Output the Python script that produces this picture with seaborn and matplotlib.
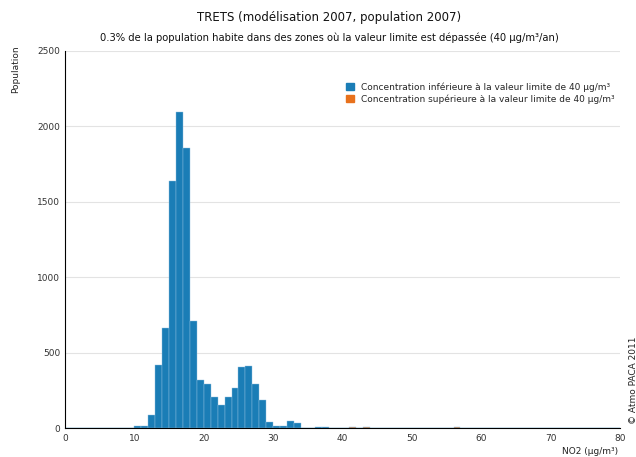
import numpy as np
import pandas as pd
import matplotlib
matplotlib.use("Agg")
import matplotlib.pyplot as plt
import seaborn as sns
from matplotlib.patches import Patch
from matplotlib.ticker import MultipleLocator

# Data: NO2 bins (1 µg/m³ wide, left edge) and population counts
blue_bins = [10, 11, 12, 13, 14, 15, 16, 17, 18, 19, 20, 21, 22, 23, 24, 25, 26, 27,
             28, 29, 30, 31, 32, 33, 36, 37]
blue_values = [15, 15, 88, 416, 661, 1636, 2098, 1855, 710, 318, 290, 208, 152, 208,
               263, 407, 414, 290, 186, 38, 15, 15, 46, 30, 8, 8]
orange_bins = [41, 43, 56]
orange_values = [6, 6, 6]

label_low = "Concentration inférieure à la valeur limite de 40 µg/m³"
label_high = "Concentration supérieure à la valeur limite de 40 µg/m³"
title = "TRETS (modélisation 2007, population 2007)"
subtitle = "0.3% de la population habite dans des zones où la valeur limite est dépassée (40 µg/m³/an)"

blue = "#1a7db6"
orange = "#e8711c"

df = pd.DataFrame({
    "no2": [b + 0.5 for b in blue_bins] + [b + 0.5 for b in orange_bins],
    "pop": blue_values + orange_values,
    "cat": [label_low] * len(blue_bins) + [label_high] * len(orange_bins),
})

sns.set_style("white")
plt.rcParams["font.family"] = ["DejaVu Sans"]

fig = plt.figure(figsize=(6.36, 4.57), dpi=100)
ax = fig.add_axes([65 / 636, 1 - 428 / 457, (620 - 65) / 636, (428 - 51) / 457])

sns.histplot(data=df, x="no2", weights="pop", hue="cat", binwidth=1, binrange=(0, 80),
             palette={label_low: blue, label_high: orange}, multiple="layer",
             alpha=1, edgecolor="#8fc0e0", linewidth=0.3, legend=False, ax=ax)

ax.set_xlim(0, 80)
ax.set_ylim(0, 2500)
ax.xaxis.set_major_locator(MultipleLocator(10))
ax.xaxis.set_minor_locator(MultipleLocator(5))
ax.yaxis.set_major_locator(MultipleLocator(500))
ax.yaxis.set_minor_locator(MultipleLocator(100))
ax.tick_params(axis="both", which="both", direction="in", length=3, width=0.8,
               color="black", labelsize=6.5, labelcolor="#333333")
ax.tick_params(axis="x", pad=4)
ax.set_axisbelow(True)
ax.grid(axis="y", which="major", color="#e3e3e3", linewidth=0.8)
for s in ["top", "right"]:
    ax.spines[s].set_visible(False)
for s in ["left", "bottom"]:
    ax.spines[s].set_color("black")
    ax.spines[s].set_linewidth(0.8)
ax.set_xlabel("")
ax.set_ylabel("")

fig.text(329 / 636, 1 - 18 / 457, title, ha="center", va="center", fontsize=8.5, color="#111111")
fig.text(329 / 636, 1 - 38 / 457, subtitle, ha="center", va="center", fontsize=7.2, color="#111111")
fig.text(16 / 636, 1 - 45 / 457, "Population", rotation=90, ha="center", va="top", fontsize=6.5, color="#222222")
fig.text(618 / 636, 1 - 451 / 457, "NO2 (µg/m³)", ha="right", va="center", fontsize=6.5, color="#222222")
fig.text(633 / 636, 1 - 337 / 457, "© Atmo PACA 2011", rotation=90, ha="center", va="top",
         fontsize=6.5, color="#222222")

handles = [Patch(facecolor=blue, edgecolor=blue), Patch(facecolor=orange, edgecolor=orange)]
ax.legend(handles, [label_low, label_high], loc="upper left",
          bbox_to_anchor=((340 - 65) / 555, 1 - (76 - 51) / 377), frameon=False,
          fontsize=6.5, handlelength=0.8, handleheight=0.8, handletextpad=0.8,
          labelspacing=0.3, borderpad=0.2)

fig.savefig("out.png", dpi=100)
